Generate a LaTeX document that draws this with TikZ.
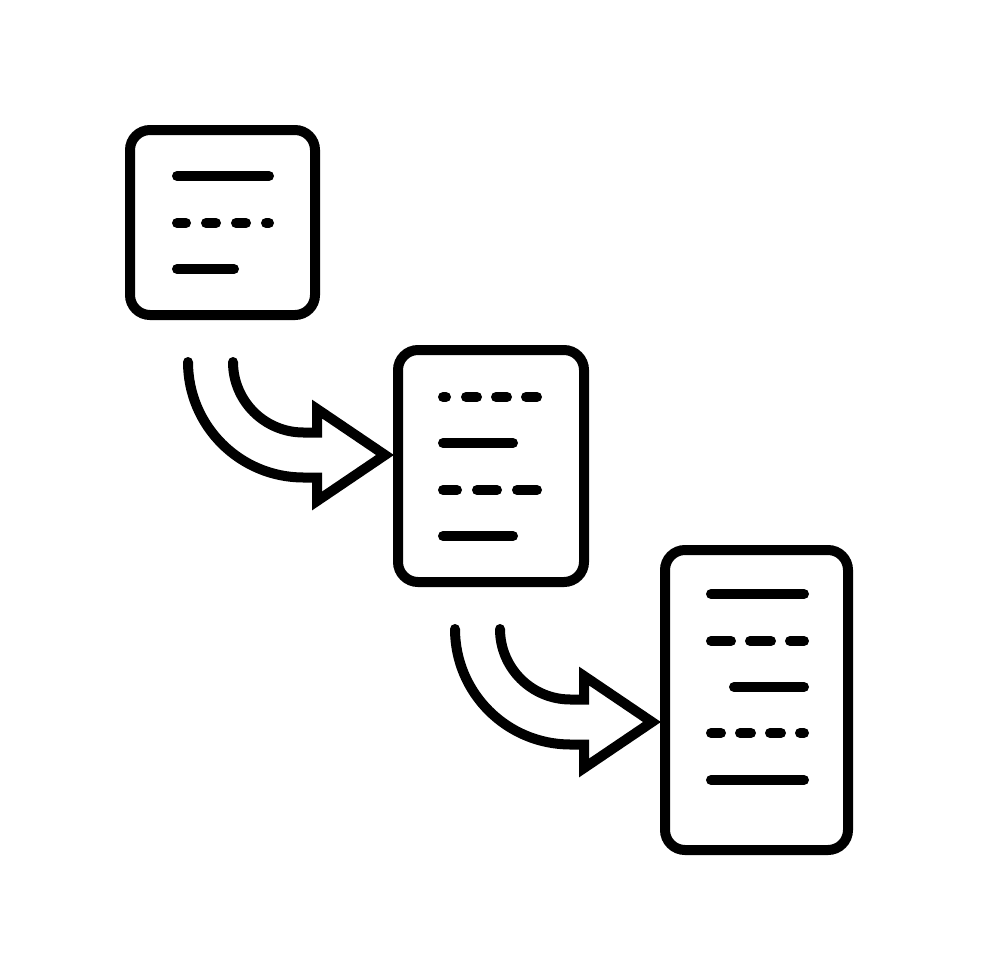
\documentclass[tikz,border=0pt]{standalone}
\usepackage{tikz}
\usetikzlibrary{positioning}

\begin{document}
\begin{tikzpicture}[x=1pt,y=-1pt,line width=10pt,line cap=round,line join=miter]
 \tikzstyle{doc}=[draw,rounded corners=20pt,inner sep=0pt,outer sep=0pt,minimum width=185pt]
 \tikzset{bend arrow/.pic={
   \draw (-197,-93) arc (180:90:115.5) -- (-68,22.5) -- (-68,46) -- (0,0)
     -- (-68,-46) -- (-68,-22.5) -- (-81.5,-22.5) arc (90:180:70.5);
 }}

 \useasboundingbox (0,0) rectangle (980,980);

   \node[doc,minimum height=185pt] (b1) at (222.5,222.5) {};
   \node[doc,minimum width=186pt,minimum height=232pt,below right=220pt and 83pt of b1.north east] (b2) {};
   \node[doc,minimum width=183pt,minimum height=300pt,below right=200pt and 81pt of b2.north east] (b3) {};

   \foreach \y/\a/\b in {46/47/139, 93/47/56, 93/76/86, 93/106/116, 93/136/139, 139/47/104}
     \draw ([shift={(\a,\y)}]b1.north west) -- ([shift={(\b,\y)}]b1.north west);
   \foreach \y/\a/\b in {47/45/48, 47/68/79, 47/98/109, 47/128/139, 93/45/115,
       140/45/59, 140/79/99, 140/119/139, 186/45/115}
     \draw ([shift={(\a,\y)}]b2.north west) -- ([shift={(\b,\y)}]b2.north west);
   \foreach \y/\a/\b in {44/46/139, 91/46/66, 91/85/106, 91/125/139, 137/69/139,
       183/46/56, 183/75/86, 183/105/116, 183/135/139, 230/46/139}
     \draw ([shift={(\a,\y)}]b3.north west) -- ([shift={(\b,\y)}]b3.north west);

   \pic at ([shift={(-13,105)}]b2.north west) {bend arrow};
   \pic at ([shift={(-13,172)}]b3.north west) {bend arrow};
\end{tikzpicture}
\end{document}
